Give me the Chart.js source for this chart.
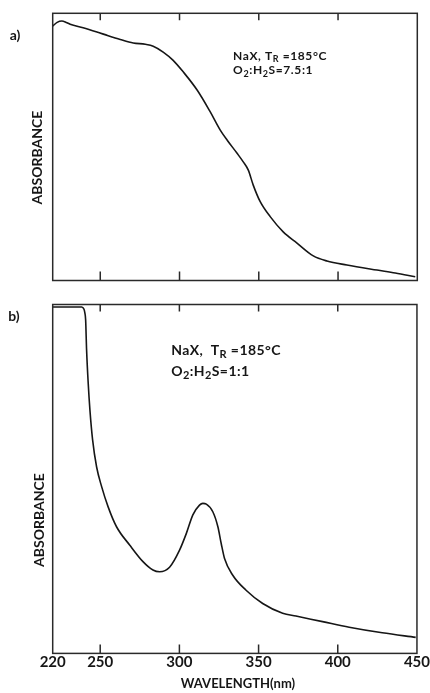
<!DOCTYPE html>
<html>
<head>
<meta charset="utf-8">
<script src="https://cdn.jsdelivr.net/npm/chart.js"></script>
<style>
  body { margin: 0; background: #fff; }
  #wrap { position: relative; width: 430px; height: 693px; }
  #wrap canvas { position: absolute; left: 0; }
</style>
</head>
<body>
<div id="wrap">
  <canvas id="graphA" width="430" height="300" style="top:0"></canvas>
  <canvas id="graphB" width="430" height="393" style="top:300px"></canvas>
</div>
<script>
// panel a) O2:H2S = 7.5:1
const wavelengthA = [220, 222.8, 225.8, 228.5, 231, 239.2, 247.9, 255, 262.6, 270.8, 278.4, 283.4, 289.7, 296, 302.3, 311.2, 319.4, 325.7, 330.1, 336.2, 340.2, 343.4, 346.5, 350.9, 357.2, 365.4, 374.1, 384.4, 393, 405.6, 424.6, 436.1, 448.7];
const absorbanceA = [0.952, 0.966, 0.971, 0.966, 0.959, 0.946, 0.930, 0.916, 0.902, 0.889, 0.884, 0.877, 0.855, 0.824, 0.781, 0.712, 0.631, 0.563, 0.525, 0.477, 0.444, 0.413, 0.357, 0.295, 0.239, 0.182, 0.140, 0.092, 0.073, 0.058, 0.039, 0.028, 0.014];

// panel b) O2:H2S = 1:1
const wavelengthB = [220, 238.3, 239.7, 240.3, 240.8, 241.4, 242.4, 243.5, 245.2, 247.7, 250.9, 255, 260.3, 268.7, 277, 283.3, 287.5, 293.8, 300.1, 304.4, 308.5, 312.7, 314.8, 317, 321.1, 324.3, 326.4, 328.5, 333.7, 342.1, 352.6, 365.2, 373.6, 390.4, 407.2, 428.1, 449.2];
const absorbanceB = [0.993, 0.993, 0.987, 0.976, 0.956, 0.870, 0.776, 0.698, 0.612, 0.535, 0.478, 0.420, 0.363, 0.310, 0.263, 0.239, 0.234, 0.247, 0.296, 0.344, 0.397, 0.425, 0.430, 0.428, 0.406, 0.363, 0.315, 0.272, 0.224, 0.181, 0.143, 0.115, 0.107, 0.091, 0.075, 0.059, 0.046];

const tickLabels = [220, 250, 300, 350, 400, 450];
const tickMarks = [250, 300, 350, 400];

const FONT = 'Lato, "Open Sans", sans-serif';
const INK = '#161616';

function drawRuns(ctx, runs, x, y, size) {
  runs.forEach(function(r) {
    const sub = r[1];
    ctx.font = 'bold ' + (sub ? Math.round(size * 0.75) : size) + 'px ' + FONT;
    ctx.fillText(r[0], x, sub ? y + size * 0.22 : y);
    x += ctx.measureText(r[0]).width;
  });
}

function panelPlugin(cfg) {
  return {
    id: 'panel',
    afterDraw: function(chart) {
      const ctx = chart.ctx;
      const a = chart.chartArea;
      const xs = chart.scales.x, ys = chart.scales.y;
      ctx.save();
      ctx.strokeStyle = '#2a2a2a';
      ctx.lineWidth = 1.5;
      ctx.strokeRect(a.left, a.top, a.right - a.left, a.bottom - a.top);
      // inward ticks, bottom and top
      ctx.beginPath();
      tickMarks.forEach(function(v) {
        const px = xs.getPixelForValue(v);
        ctx.moveTo(px, a.bottom); ctx.lineTo(px, a.bottom - 9);
        ctx.moveTo(px, a.top); ctx.lineTo(px, a.top + 7);
      });
      ctx.stroke();

      ctx.fillStyle = INK;
      ctx.textBaseline = 'alphabetic';
      ctx.textAlign = 'left';
      ctx.letterSpacing = cfg.spacing;
      const nx = xs.getPixelForValue(cfg.noteX);
      drawRuns(ctx, cfg.line1, nx, ys.getPixelForValue(cfg.noteY1), cfg.noteSize);
      drawRuns(ctx, cfg.line2, nx, ys.getPixelForValue(cfg.noteY2), cfg.noteSize);
      ctx.letterSpacing = '0px';

      ctx.font = 'bold 14px ' + FONT;
      ctx.textAlign = 'center';
      ctx.textBaseline = 'middle';
      ctx.fillText(cfg.tag, cfg.tagX, cfg.tagY);

      ctx.translate(cfg.yLabelX, cfg.yLabelY);
      ctx.rotate(-Math.PI / 2);
      ctx.fillText('ABSORBANCE', 0, 0);
      ctx.restore();
    }
  };
}

function makeChart(id, xs, ys, showAxis, padding, cfg) {
  return new Chart(document.getElementById(id), {
    type: 'line',
    data: {
      datasets: [{
        data: xs.map(function(x, i) { return { x: x, y: ys[i] }; }),
        borderColor: INK,
        borderWidth: 1.6,
        pointRadius: 0,
        fill: false,
        cubicInterpolationMode: 'monotone'
      }]
    },
    options: {
      responsive: false,
      animation: false,
      devicePixelRatio: 1,
      layout: { padding: padding },
      plugins: { legend: { display: false }, tooltip: { enabled: false } },
      scales: {
        x: {
          type: 'linear', min: 220, max: 450,
          display: showAxis,
          afterBuildTicks: function(s) { s.ticks = tickLabels.map(function(v) { return { value: v }; }); },
          ticks: { color: INK, font: { family: FONT, size: 15, weight: 'bold' }, padding: 0, maxRotation: 0, autoSkip: false },
          grid: { display: false, drawTicks: false },
          border: { display: false },
          title: {
            display: true, text: '  WAVELENGTH(nm)', color: INK,
            font: { family: FONT, size: 13, weight: 'bold' },
            padding: { top: 5, bottom: 0 }
          }
        },
        y: { min: 0, max: 1, display: false }
      }
    },
    plugins: [panelPlugin(cfg)]
  });
}

makeChart('graphA', wavelengthA, absorbanceA, false,
  { left: 52.7, top: 13.3, right: 12.7, bottom: 19.5 },
  {
    line1: [['NaX, T'], ['R', true], [' =185°C']],
    line2: [['O'], ['2', true], [':H'], ['2', true], ['S=7.5:1']],
    noteX: 333.8, noteY1: 0.826, noteY2: 0.771, noteSize: 12, spacing: '0.6px',
    tag: 'a)', tagX: 15, tagY: 35,
    yLabelX: 37.5, yLabelY: 157.5
  });

makeChart('graphB', wavelengthB, absorbanceB, true,
  { left: 52.7, top: 4.5, right: 12, bottom: 1 },
  {
    line1: [['NaX,  T'], ['R', true], [' =185°C']],
    line2: [['O'], ['2', true], [':H'], ['2', true], ['S=1:1']],
    noteX: 294.9, noteY1: 0.855, noteY2: 0.795, noteSize: 14, spacing: '0.4px',
    tag: 'b)', tagX: 14, tagY: 16,
    yLabelX: 39, yLabelY: 220
  });
</script>
</body>
</html>
